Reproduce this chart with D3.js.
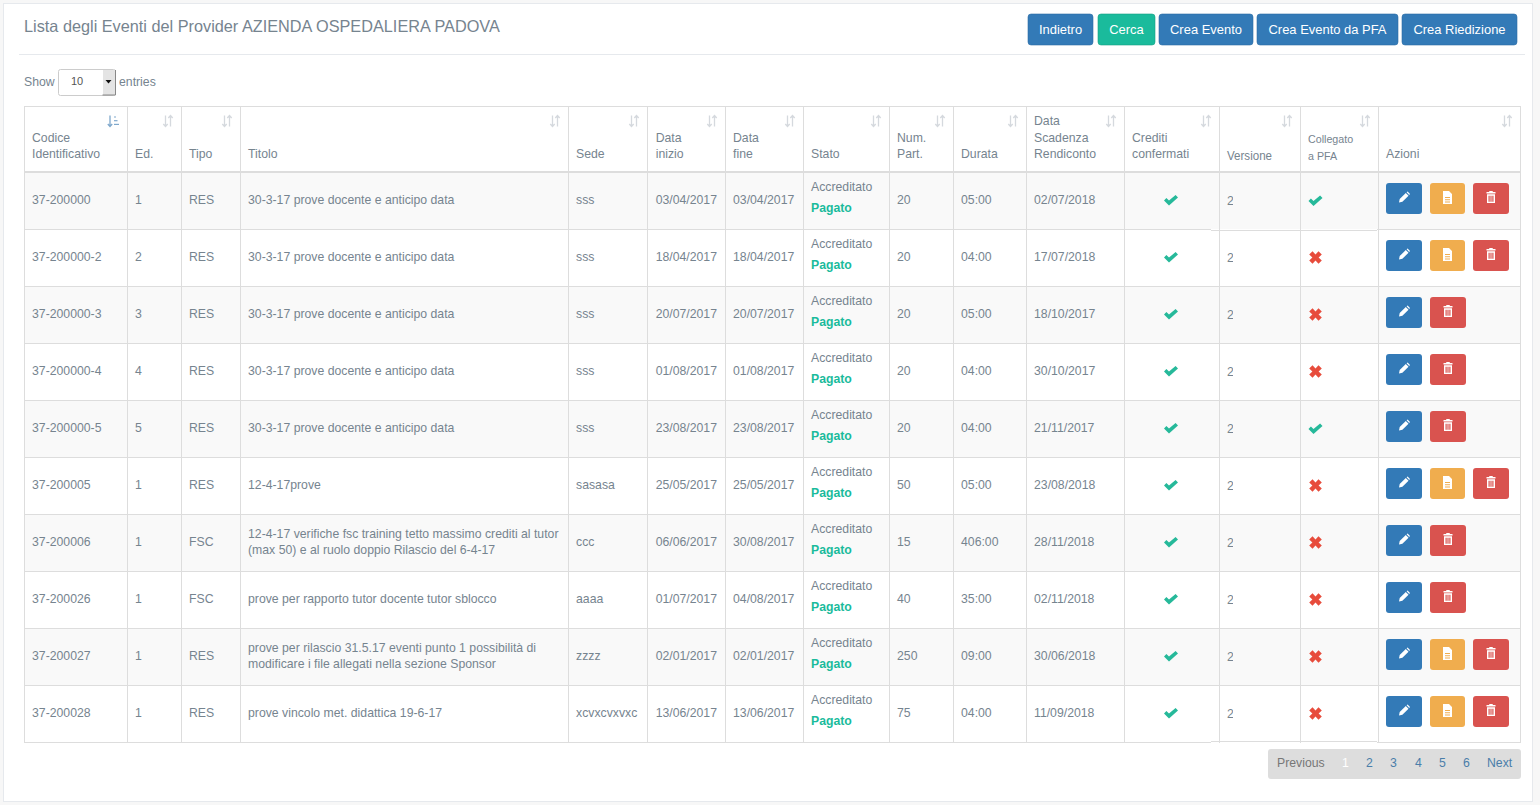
<!DOCTYPE html>
<html><head><meta charset="utf-8">
<script src="https://cdnjs.cloudflare.com/ajax/libs/d3/7.8.5/d3.min.js"></script>
<style>
html,body{margin:0;padding:0;background:#f7f7f7;overflow:hidden}
svg{display:block}
text{font-family:"Liberation Sans",Arial,sans-serif;font-size:12.25px;fill:#76848f}
</style></head><body><div id="c"></div>
<script>
const pageTitle = "Lista degli Eventi del Provider AZIENDA OSPEDALIERA PADOVA";
const topButtons = ["Indietro","Cerca","Crea Evento","Crea Evento da PFA","Crea Riedizione"];
const columns = ["codice","ed","tipo","titolo","sede","inizio","fine","stato","part","durata","scadenza","crediti","versione","pfa","azioni"];
const headers = [["Codice","Identificativo"],["Ed."],["Tipo"],["Titolo"],["Sede"],["Data","inizio"],["Data","fine"],["Stato"],["Num.","Part."],["Durata"],["Data","Scadenza","Rendiconto"],["Crediti","confermati"],["Versione"],["Collegato","a PFA"],["Azioni"]];
const codes = ["37-200000","37-200000-2","37-200000-3","37-200000-4","37-200000-5","37-200005","37-200006","37-200026","37-200027","37-200028"];
const editions = ["1","2","3","4","5","1","1","1","1","1"];
const types = ["RES","RES","RES","RES","RES","RES","FSC","FSC","RES","RES"];
const titles = [["30-3-17 prove docente e anticipo data"],["30-3-17 prove docente e anticipo data"],["30-3-17 prove docente e anticipo data"],["30-3-17 prove docente e anticipo data"],["30-3-17 prove docente e anticipo data"],["12-4-17prove"],["12-4-17 verifiche fsc training tetto massimo crediti al tutor","(max 50) e al ruolo doppio Rilascio del 6-4-17"],["prove per rapporto tutor docente tutor sblocco"],["prove per rilascio 31.5.17 eventi punto 1 possibilità di","modificare i file allegati nella sezione Sponsor"],["prove vincolo met. didattica 19-6-17"]];
const venues = ["sss","sss","sss","sss","sss","sasasa","ccc","aaaa","zzzz","xcvxcvxvxc"];
const startDates = ["03/04/2017","18/04/2017","20/07/2017","01/08/2017","23/08/2017","25/05/2017","06/06/2017","01/07/2017","02/01/2017","13/06/2017"];
const endDates = ["03/04/2017","18/04/2017","20/07/2017","01/08/2017","23/08/2017","25/05/2017","30/08/2017","04/08/2017","02/01/2017","13/06/2017"];
const participants = ["20","20","20","20","20","50","15","40","250","75"];
const durations = ["05:00","04:00","05:00","04:00","04:00","05:00","406:00","35:00","09:00","04:00"];
const deadlines = ["02/07/2018","17/07/2018","18/10/2017","30/10/2017","21/11/2017","23/08/2018","28/11/2018","02/11/2018","30/06/2018","11/09/2018"];
const linkedPfa = [1,0,0,0,1,0,0,0,0,0];
const hasDoc = [1,1,0,0,0,1,0,0,1,1];
const pageLabels = ["Previous","1","2","3","4","5","6","Next"];

// layout
const W=1540,H=805;
const colEdges=[24.5,127.5,181.5,240.5,568.5,647.5,725.5,803.5,889.5,953.5,1026.5,1124.5,1219.5,1300.5,1378.5,1520.5];
const xCol=d3.scaleOrdinal().domain(columns).range(colEdges);
const xEnd=d3.scaleOrdinal().domain(columns).range(colEdges.slice(1));
const y=d3.scaleBand().domain(d3.range(codes.length)).range([172,742]);
const svg=d3.select("#c").append("svg").attr("width",W).attr("height",H);
const GREY="#ddd",GREEN="#1ABB9C",BLUE="#337ab7",RED="#d9534f",ORANGE="#f0ad4e";
const pad=c=>c=="inizio"?8.2:7.5;

svg.append("rect").attr("x",3.5).attr("y",3.5).attr("width",1529).attr("height",798).attr("fill","#fff").attr("stroke","#E6E9ED");
svg.append("text").attr("x",24).attr("y",32).style("font-size","16.27px").text(pageTitle);
svg.append("line").attr("x1",19).attr("x2",1525).attr("y1",54.5).attr("y2",54.5).attr("stroke","#E6E9ED");

// top buttons
const btnL=[1028,1098,1159,1257,1402],btnR=[1093,1155,1253,1398,1517];
const tb=svg.append("g").selectAll("g").data(topButtons).join("g");
tb.append("rect").attr("x",(d,i)=>btnL[i]).attr("y",14).attr("width",(d,i)=>btnR[i]-btnL[i]).attr("height",31).attr("rx",3)
  .attr("fill",(d,i)=>i==1?GREEN:BLUE).attr("stroke",(d,i)=>i==1?"#169F85":"#2e6da4").attr("stroke-width",.6);
tb.append("text").attr("x",(d,i)=>(btnL[i]+btnR[i])/2).attr("y",34).attr("text-anchor","middle").style("fill","#fff").style("font-size","12.95px").text(d=>d);

// length select
svg.append("text").attr("x",24).attr("y",86).text("Show");
svg.append("rect").attr("x",58.5).attr("y",69.5).attr("width",57).attr("height",26).attr("rx",2).attr("fill","#fff").attr("stroke","#ccc");
svg.append("rect").attr("x",103).attr("y",70).attr("width",12).attr("height",25).attr("fill","#e4e4e4");
svg.append("line").attr("x1",102.5).attr("x2",115.5).attr("y1",95).attr("y2",95).attr("stroke","#888");
svg.append("line").attr("x1",115.5).attr("x2",115.5).attr("y1",70).attr("y2",95).attr("stroke","#888");
svg.append("path").attr("d","M105.5 80h6l-3 3.5z").attr("fill","#111");
svg.append("text").attr("x",71).attr("y",85).style("font-size","11px").style("fill","#555").text("10");
svg.append("text").attr("x",119).attr("y",86).text("entries");

// table stripes
svg.append("g").selectAll("rect").data(d3.range(codes.length)).join("rect")
  .attr("x",colEdges[0]).attr("width",colEdges[15]-colEdges[0]).attr("y",i=>y(i)).attr("height",y.bandwidth())
  .attr("fill",i=>i%2==0?"#f9f9f9":"#fff");
// grid
const grid=svg.append("g").attr("stroke",GREY).attr("fill","none");
colEdges.forEach(x=>grid.append("line").attr("x1",x).attr("x2",x).attr("y1",106).attr("y2",743));
grid.append("line").attr("x1",24).attr("x2",1521).attr("y1",106.5).attr("y2",106.5);
grid.append("line").attr("x1",24).attr("x2",1521).attr("y1",172).attr("y2",172).attr("stroke-width",2);
d3.range(codes.length).forEach(i=>{
  const yy=y(i)+y.bandwidth()+.5;
  if(i==0){
    // the Versione / Collegato cells sit one pixel off in the reference
    grid.append("line").attr("x1",24).attr("x2",1211).attr("y1",yy).attr("y2",yy);
    grid.append("line").attr("x1",1211).attr("x2",1377).attr("y1",yy+1).attr("y2",yy+1);
    grid.append("line").attr("x1",1377).attr("x2",1521).attr("y1",yy).attr("y2",yy);
  } else if(i==codes.length-1){
    grid.append("line").attr("x1",24).attr("x2",1211).attr("y1",yy).attr("y2",yy);
    grid.append("line").attr("x1",1211).attr("x2",1377).attr("y1",yy-1).attr("y2",yy-1);
    grid.append("line").attr("x1",1377).attr("x2",1521).attr("y1",yy).attr("y2",yy);
  } else {
    grid.append("line").attr("x1",24).attr("x2",1521).attr("y1",yy).attr("y2",yy);
  }
});

// header text and sort icons
const hdr=svg.append("g").selectAll("g").data(columns).join("g");
hdr.each(function(c,i){
  const g=d3.select(this),lines=headers[i],x=xCol(c)+pad(c);
  const small=c=="pfa",ver=c=="versione";
  lines.forEach((t,k)=>{
    const base=(small||ver?160:158)-(lines.length-1-k)*(small?17:16)-(lines.length==3&&k==0?1:0);
    g.append("text").attr("x",x).attr("y",base).style("font-size",small?"10.7px":"12.25px")
     .attr("textLength",ver?45:null).attr("lengthAdjust","spacingAndGlyphs").text(t);
  });
  const ax=xEnd(c)-(c=="codice"?17.5:16),col=c=="codice"?"#7fa8cc":"#d5d9de";
  const ay=121;
  g.append("path").attr("fill","none").attr("stroke",col).attr("stroke-width",1.3)
   .attr("d",`M${ax} ${ay-5.5}V${ay+5.5}M${ax-2.2} ${ay+3}L${ax} ${ay+5.5}L${ax+2.2} ${ay+3}`);
  if(c=="codice"){
    [0,1,2].forEach(k=>g.append("line").attr("x1",ax+4).attr("x2",ax+6+k*1.5).attr("y1",ay-4+k*3.7).attr("y2",ay-4+k*3.7).attr("stroke",col).attr("stroke-width",1.2));
  } else {
    g.append("path").attr("fill","none").attr("stroke",col).attr("stroke-width",1.3)
     .attr("d",`M${ax+5} ${ay+5.5}V${ay-5.5}M${ax+2.8} ${ay-3}L${ax+5} ${ay-5.5}L${ax+7.2} ${ay-3}`);
  }
});

// rows
const rows=svg.append("g").selectAll("g").data(d3.range(codes.length)).join("g").attr("transform",i=>`translate(0,${y(i)+y.bandwidth()/2})`);
const cell=(c,arr)=>rows.append("text").attr("x",xCol(c)+pad(c)).attr("y",3).text(i=>arr[i]);
cell("codice",codes);cell("ed",editions);cell("tipo",types);cell("sede",venues);cell("inizio",startDates);cell("fine",endDates);cell("part",participants);cell("durata",durations);cell("scadenza",deadlines);
rows.each(function(i){
  const g=d3.select(this),t=titles[i],x=xCol("titolo")+7.5;
  t.forEach((s,k)=>g.append("text").attr("x",x).attr("y",t.length==1?3:-5+k*16).text(s));
});
rows.append("text").attr("x",xCol("stato")+7.5).attr("y",-10).text("Accreditato");
rows.append("text").attr("x",xCol("stato")+7.5).attr("y",11).style("font-weight","bold").style("fill",GREEN).text("Pagato");

const CHECK="M-7 0.5L-4.6 -2L-2 0.6L4.6 -5L7 -2.6L-2 5.5Z";
const CROSS="M-6.3 -3L-3 -6.3L0 -3.1L3 -6.3L6.3 -3L3.1 0L6.3 3L3 6.3L0 3.1L-3 6.3L-6.3 3L-3.1 0Z";
rows.append("path").attr("d",CHECK).attr("fill","#26B99A").attr("transform",`translate(${xCol("crediti")+46.5},-0.5)`);
rows.append("path").attr("d",i=>linkedPfa[i]?CHECK:CROSS).attr("fill",i=>linkedPfa[i]?"#26B99A":"#E74C3C")
  .attr("transform",`translate(${xCol("pfa")+15},0)`);
svg.append("clipPath").attr("id","vc").append("rect").attr("x",1220).attr("y",0).attr("width",13).attr("height",H);
svg.append("g").attr("clip-path","url(#vc)").selectAll("text").data(d3.range(codes.length)).join("text")
  .attr("x",xCol("versione")+7.5).attr("y",i=>y(i)+y.bandwidth()/2+4).text("2");

// action buttons
function btn(g,x,w,col,icon){
  const b=g.append("g").attr("transform",`translate(${x},-17.5)`);
  b.append("rect").attr("width",w).attr("height",31).attr("rx",3).attr("fill",col);
  b.append("path").attr("d",icon).attr("fill","#fff").attr("fill-rule","evenodd").attr("transform",`translate(${w/2},14.5)`);
}
const PENCIL="M-5 5L-4.3 1.6L1.8 -4.5L4.5 -1.8L-1.6 4.3ZM2.6 -5.2L3.6 -6L6 -3.6L5.2 -2.6Z";
const DOC="M-4.5 -6.5H1.5L4.5 -3.5V6.5H-4.5ZM-2.5 -0.5V0.5H2.5V-0.5ZM-2.5 1.7V2.7H2.5V1.7ZM-2.5 3.9V4.9H2.5V3.9Z";
const TRASH="M-4.5 -5.5H-2L-1.5 -6.5H1.5L2 -5.5H4.5V-4H-4.5ZM-4 -3.2H4V5.5H-4ZM-2.5 -1.8V4.2H-1.3V-1.8ZM-.6 -1.8V4.2H.6V-1.8ZM1.3 -1.8V4.2H2.5V-1.8Z";
rows.each(function(i){
  const g=d3.select(this),x0=xCol("azioni")+7.5;
  btn(g,x0,36,BLUE,PENCIL);
  if(hasDoc[i]){btn(g,x0+44,35,ORANGE,DOC);btn(g,x0+87,36,RED,TRASH);}
  else btn(g,x0+44,36,RED,TRASH);
});

// pagination
svg.append("rect").attr("x",1268).attr("y",749).attr("width",253).attr("height",30).attr("rx",3).attr("fill","#ddd");
const pageX=[1277,1342,1366,1390,1415,1439,1463,1487];
svg.append("g").selectAll("text").data(pageLabels).join("text").attr("x",(d,i)=>pageX[i]).attr("y",767)
  .style("fill",(d,i)=>i==0?"#777":i==1?"#fff":"#4a7eaa").text(d=>d);
</script></body></html>
